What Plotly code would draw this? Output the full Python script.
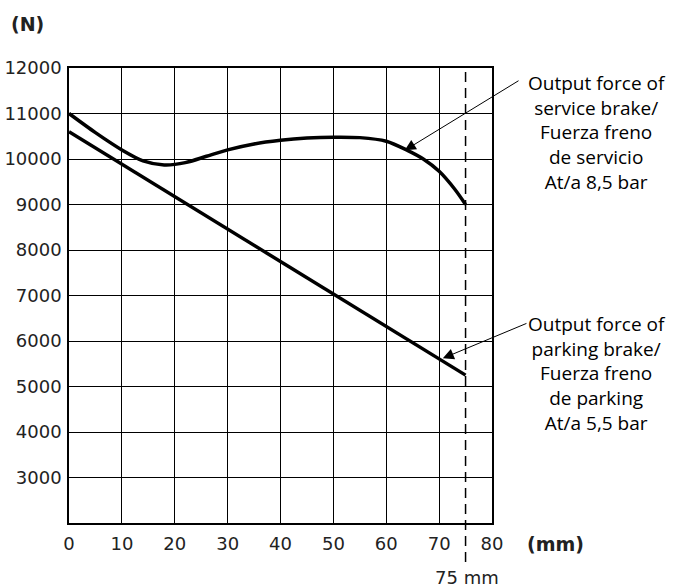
import plotly.graph_objects as go

# Data
service_x = [0, 5, 10, 14, 18, 22, 26, 30, 35, 40, 45, 50, 55, 60, 64, 67, 70, 73, 75]
service_y = [11000, 10580, 10200, 9960, 9870, 9920, 10060, 10200, 10330, 10410, 10460, 10480, 10470, 10390, 10190, 10000, 9730, 9330, 9000]
parking_x = [0, 75]
parking_y = [10600, 5250]
x_ticks = [0, 10, 20, 30, 40, 50, 60, 70, 80]
y_ticks = [3000, 4000, 5000, 6000, 7000, 8000, 9000, 10000, 11000, 12000]
service_label = ["Output force of", "service brake/", "Fuerza freno", "de servicio", "At/a 8,5 bar"]
parking_label = ["Output force of", "parking brake/", "Fuerza freno", "de parking", "At/a 5,5 bar"]
stroke_mark = 75

W, H = 683, 588
L, R, T, B = 69, 191, 68, 65
PW, PH = W - L - R, H - T - B


def px(xp):
    return (xp - L) / PW


def py(yp):
    return 1 - (yp - T) / PH


fig = go.Figure()
fig.add_trace(go.Scatter(x=service_x, y=service_y, mode="lines",
                         line=dict(color="black", width=3.5, shape="spline", smoothing=0.8),
                         showlegend=False, hoverinfo="skip"))
fig.add_trace(go.Scatter(x=parking_x, y=parking_y, mode="lines",
                         line=dict(color="black", width=3.5),
                         showlegend=False, hoverinfo="skip"))

tick_font = dict(family="DejaVu Sans", size=18, color="#222")
fig.update_xaxes(range=[0, 80], tickvals=x_ticks, ticktext=[str(v) for v in x_ticks],
                 showgrid=True, gridcolor="black", gridwidth=1.3, zeroline=False,
                 showline=True, linecolor="black", linewidth=1.5, mirror=True,
                 ticks="", ticklabelstandoff=4, tickfont=tick_font, automargin=False)
fig.update_yaxes(range=[2000, 12000], tickvals=y_ticks, ticktext=[str(v) for v in y_ticks],
                 showgrid=True, gridcolor="black", gridwidth=1.3, zeroline=False,
                 showline=True, linecolor="black", linewidth=1.5, mirror=True,
                 ticks="", ticklabelstandoff=2, tickfont=tick_font, automargin=False)

# dashed line at 75 mm
fig.add_shape(type="line", x0=stroke_mark, x1=stroke_mark, xref="x", yref="paper",
              y0=py(562), y1=1, line=dict(color="black", width=1.5, dash="10px,6px"))

ann_font = dict(family="Open Sans", size=19, color="black")
fig.add_annotation(x=px(597), y=py(132.5), xref="paper", yref="paper", text="<br>".join(service_label),
                   showarrow=False, font=ann_font, align="center", xanchor="center", yanchor="middle")
fig.add_annotation(x=px(597), y=py(373), xref="paper", yref="paper", text="<br>".join(parking_label),
                   showarrow=False, font=ann_font, align="center", xanchor="center", yanchor="middle")
# arrows
fig.add_annotation(x=63.5, y=10190, ax=85.3, ay=11740, axref="x", ayref="y", xref="x", yref="y",
                   text="", showarrow=True, arrowhead=2, arrowsize=2.2, arrowwidth=1, arrowcolor="black")
fig.add_annotation(x=70.7, y=5620, ax=86.8, ay=6400, axref="x", ayref="y", xref="x", yref="y",
                   text="", showarrow=True, arrowhead=2, arrowsize=2.2, arrowwidth=1, arrowcolor="black")

fig.add_annotation(x=px(27), y=py(24), xref="paper", yref="paper", text="<b>(N)</b>", showarrow=False,
                   xanchor="center", yanchor="middle",
                   font=dict(family="DejaVu Sans", size=19, color="#222"))
fig.add_annotation(x=px(555), y=py(544), xref="paper", yref="paper", text="<b>(mm)</b>", showarrow=False,
                   xanchor="center", yanchor="middle",
                   font=dict(family="DejaVu Sans", size=19, color="#222"))
fig.add_annotation(x=px(467), y=py(577), xref="paper", yref="paper", text="75 mm", showarrow=False,
                   xanchor="center", yanchor="middle",
                   font=dict(family="DejaVu Sans", size=18, color="#222"))

fig.update_layout(width=W, height=H, margin=dict(l=L, r=R, t=T, b=B),
                  plot_bgcolor="white", paper_bgcolor="white")

fig.write_html("out.html", config={"displayModeBar": False},
               post_script="document.body.style.margin='0';document.body.style.overflow='hidden';")
